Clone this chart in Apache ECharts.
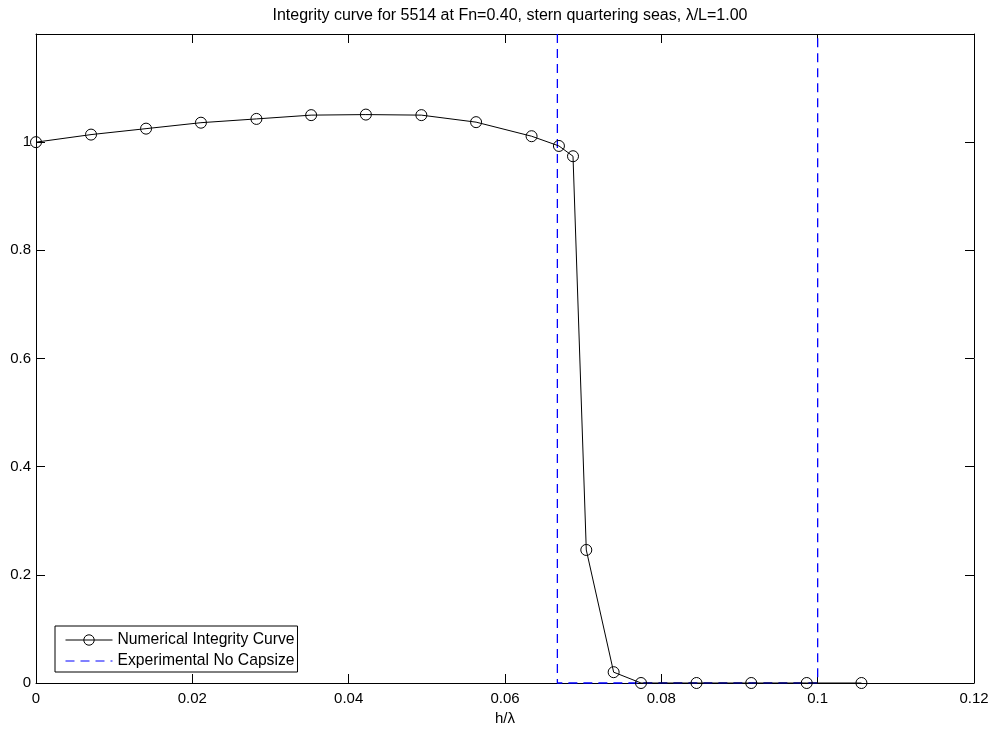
<!DOCTYPE html>
<html>
<head>
<meta charset="utf-8">
<script src="https://cdn.jsdelivr.net/npm/echarts@6/dist/echarts.min.js"></script>
<style>
html,body{margin:0;padding:0;background:#fff;}
#chart{width:995px;height:729px;}
</style>
</head>
<body>
<div id="chart"></div>
<script>
// Data
const hOverLambda = [0, 0.00704, 0.01408, 0.0211, 0.0282, 0.0352, 0.0422, 0.0493, 0.0563, 0.0634, 0.0669, 0.0687, 0.0704, 0.0739, 0.0774, 0.0845, 0.0915, 0.0986, 0.1056];
const integrity = [1.000, 1.014, 1.025, 1.036, 1.043, 1.050, 1.051, 1.050, 1.037, 1.011, 0.993, 0.974, 0.246, 0.020, 0, 0, 0, 0, 0];
const expX = [0.0667, 0.0667, 0.1, 0.1];
const expY = [1.2, 0, 0, 1.2];
const xTicks = [0, 0.02, 0.04, 0.06, 0.08, 0.1, 0.12];
const yTicks = [0, 0.2, 0.4, 0.6, 0.8, 1];
const seriesNames = ['Numerical Integrity Curve', 'Experimental No Capsize'];
const titleText = 'Integrity curve for 5514 at Fn=0.40, stern quartering seas, \u03bb/L=1.00';
const xName = 'h/\u03bb';

const FONT = '"Liberation Sans", Arial, sans-serif';
const chart = echarts.init(document.getElementById('chart'), null, {renderer: 'canvas'});

const axisLineStyle = {color: '#000', width: 1};
const tickCfg = {show: true, inside: true, length: 9, lineStyle: {color: '#000', width: 1}};

const option = {
  animation: false,
  backgroundColor: '#fff',
  title: {
    text: titleText,
    left: 505, top: 3, textAlign: 'center',
    textStyle: {fontFamily: FONT, fontSize: 16, fontWeight: 'normal', color: '#000'}
  },
  grid: {left: 36, right: 21, top: 34, bottom: 46, containLabel: false, outerBoundsMode: 'none'},
  legend: {
    left: 55, top: 626,
    orient: 'vertical',
    data: [
      {name: seriesNames[0], itemStyle: {color: 'rgba(255,255,255,0)', borderColor: '#000', borderWidth: 1}, lineStyle: {color: '#000', width: 1}},
      {name: seriesNames[1], itemStyle: {color: 'rgba(0,0,0,0)', borderColor: 'rgba(0,0,0,0)', borderWidth: 0, opacity: 0}, lineStyle: {color: '#0000ff', width: 1, type: [9, 6]}}
    ],
    itemWidth: 47, itemHeight: 13, itemGap: 5,
    padding: [6, 3, 3, 10],
    borderColor: '#000', borderWidth: 1, borderRadius: 0,
    backgroundColor: '#fff',
    textStyle: {fontFamily: FONT, fontSize: 15.7, color: '#000'}
  },
  xAxis: [{
    type: 'value', min: 0, max: 0.12, interval: 0.02,
    name: xName, nameLocation: 'middle', nameGap: 26,
    nameTextStyle: {fontFamily: FONT, fontSize: 15, color: '#000'},
    axisLine: {show: true, onZero: false, lineStyle: axisLineStyle},
    axisTick: tickCfg,
    splitLine: {show: false},
    axisLabel: {
      margin: 8, fontFamily: FONT, fontSize: 15, color: '#000',
      formatter: v => xTicks.some(t => Math.abs(t - v) < 1e-9) ? String(+v.toFixed(2)) : ''
    }
  }, {
    type: 'value', min: 0, max: 0.12, interval: 0.02, position: 'top',
    axisLine: {show: true, onZero: false, lineStyle: axisLineStyle},
    axisTick: tickCfg, axisLabel: {show: false}, splitLine: {show: false}
  }],
  yAxis: [{
    type: 'value', min: 0, max: 1.2, interval: 0.2,
    axisLine: {show: true, onZero: false, lineStyle: axisLineStyle},
    axisTick: tickCfg,
    splitLine: {show: false},
    axisLabel: {
      margin: 5, fontFamily: FONT, fontSize: 15, color: '#000',
      formatter: v => yTicks.some(t => Math.abs(t - v) < 1e-9) ? String(+v.toFixed(1)) : ''
    }
  }, {
    type: 'value', min: 0, max: 1.2, interval: 0.2, position: 'right',
    axisLine: {show: true, onZero: false, lineStyle: axisLineStyle},
    axisTick: tickCfg, axisLabel: {show: false}, splitLine: {show: false}
  }],
  series: [{
    name: seriesNames[0],
    type: 'line',
    xAxisIndex: 0, yAxisIndex: 0,
    data: hOverLambda.map((x, i) => [x, integrity[i]]),
    symbol: 'circle', symbolSize: 11,
    showSymbol: true,
    clip: false,
    itemStyle: {color: 'rgba(255,255,255,0)', borderColor: '#000', borderWidth: 1},
    lineStyle: {color: '#000', width: 1},
    z: 3
  }, {
    name: seriesNames[1],
    type: 'line',
    xAxisIndex: 0, yAxisIndex: 0,
    data: expX.map((x, i) => [x, expY[i]]),
    symbol: 'none',
    clip: false,
    itemStyle: {color: '#0000ff'},
    lineStyle: {color: '#0000ff', width: 1.3, type: [9, 6]},
    z: 2
  }]
};
chart.setOption(option);
</script>
</body>
</html>
